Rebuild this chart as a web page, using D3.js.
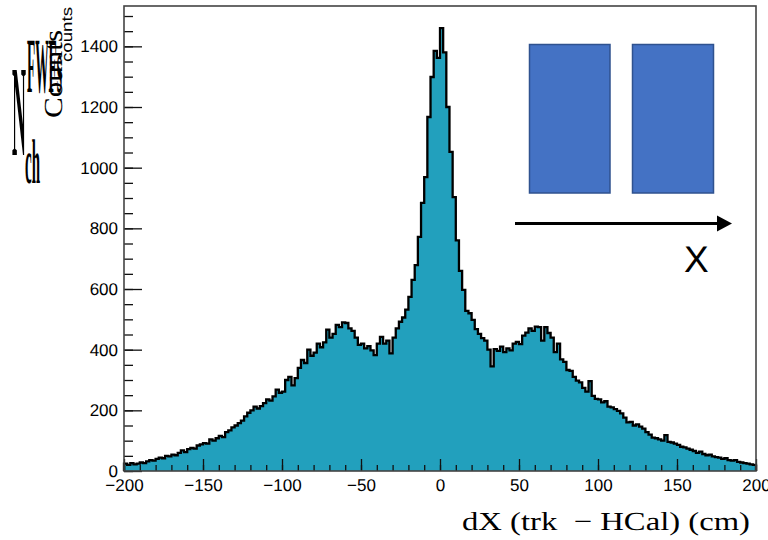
<!DOCTYPE html>
<html>
<head>
<meta charset="utf-8">
<script src="https://cdn.jsdelivr.net/npm/d3@7"></script>
<style>
  html, body { margin: 0; padding: 0; background: #fff; }
  svg { display: block; }
  text { -webkit-font-smoothing: antialiased; text-rendering: geometricPrecision; }
</style>
</head>
<body>
<svg id="chart" width="768" height="540"></svg>
<script>
// dX (track − HCal) residuals, 2 cm bins from −200 to 200 cm
const xRange = [-200, 200];
const binWidth = 2;
const counts = [
  // −200 … −120
  24, 20, 26, 22, 24, 28, 26, 32, 36, 34, 40, 44, 42, 50, 48, 54, 52, 60, 68, 62,
  72, 76, 74, 84, 88, 92, 90, 104, 100, 108, 116, 112, 128, 134, 144, 150, 158, 166, 180, 192,
  // −120 … −60
  200, 212, 206, 214, 224, 236, 232, 246, 268, 258, 262, 300, 310, 282, 306,
  340, 366, 356, 400, 380, 390, 420, 408, 424, 466, 440, 452, 482, 474, 490,
  // −60 … −30
  488, 470, 462, 440, 416, 420, 404, 412, 398, 382, 420, 442, 420, 430, 388,
  // −30 … 0
  440, 470, 492, 506, 532, 574, 630, 679, 772, 884, 969, 1167, 1299, 1385, 1362,
  // 0 … 30
  1460, 1380, 1200, 1052, 903, 760, 660, 597, 528, 520, 498, 468, 452, 438, 430,
  // 30 … 60
  400, 345, 402, 396, 410, 392, 404, 398, 420, 426, 418, 446, 456, 470, 462,
  // 60 … 120
  476, 474, 430, 474, 455, 440, 392, 420, 368, 360, 333, 330, 310, 298, 292,
  274, 262, 296, 248, 238, 236, 226, 230, 212, 210, 204, 198, 190, 176, 160,
  // 120 … 200
  162, 150, 154, 146, 140, 128, 120, 110, 108, 104, 100, 118, 96, 94, 90, 86, 80, 78, 74, 70,
  66, 60, 64, 56, 52, 54, 48, 46, 44, 40, 42, 36, 34, 36, 30, 28, 26, 24, 22, 20
];
const xMajorTicks = [-200, -150, -100, -50, 0, 50, 100, 150, 200];
const xMinorStep = 10;
const yMajorTicks = [0, 200, 400, 600, 800, 1000, 1200, 1400];
const yMinorStep = 50;
const xTitle = "dX (trk  \u2212 HCal) (cm)";

// frame of the plot area
const frame = { left: 124, right: 756, top: 6, bottom: 471 };
const yMax = d3.max(counts) * 1.05;

const svg = d3.select("#chart");
const x = d3.scaleLinear().domain(xRange).range([frame.left, frame.right]);
const y = d3.scaleLinear().domain([0, yMax]).range([frame.bottom, frame.top]);

// histogram as a step outline
const bins = counts.map((c, i) => ({ lo: xRange[0] + i * binWidth, hi: xRange[0] + (i + 1) * binWidth, c }));
const pts = [[x(xRange[0]), y(0)]];
bins.forEach(b => { pts.push([x(b.lo), y(b.c)]); pts.push([x(b.hi), y(b.c)]); });
pts.push([x(xRange[1]), y(0)]);
const line = d3.line();

svg.append("path")
  .attr("d", line(pts) + "Z")
  .attr("fill", "#22a0bd")
  .attr("stroke", "none");
svg.append("path")
  .attr("d", line(pts))
  .attr("fill", "none")
  .attr("stroke", "#000")
  .attr("stroke-width", 2.3)
  .attr("stroke-linejoin", "miter");

// axes with inward ticks
const tickFont = "'Liberation Sans', Arial, Helvetica, sans-serif";
function styleAxis(g) {
  g.select(".domain").remove();
  g.selectAll("line").attr("stroke", "#111").attr("stroke-width", 1.3);
  g.selectAll("text").attr("font-family", tickFont).attr("font-size", 17).attr("fill", "#000");
}
svg.append("g")
  .attr("transform", `translate(0,${frame.bottom})`)
  .call(d3.axisBottom(x).tickValues(d3.range(xRange[0], xRange[1] + 1, xMinorStep)).tickSize(-6).tickFormat(""))
  .call(styleAxis);
svg.append("g")
  .attr("transform", `translate(0,${frame.bottom})`)
  .call(d3.axisBottom(x).tickValues(xMajorTicks).tickSize(-12).tickPadding(8).tickFormat(d3.format("d")))
  .call(styleAxis);
svg.append("g")
  .attr("transform", `translate(${frame.left},0)`)
  .call(d3.axisLeft(y).tickValues(d3.range(0, yMax, yMinorStep)).tickSize(-9).tickFormat(""))
  .call(styleAxis);
svg.append("g")
  .attr("transform", `translate(${frame.left},0)`)
  .call(d3.axisLeft(y).tickValues(yMajorTicks).tickSize(-18).tickPadding(6).tickFormat(d3.format("d")))
  .call(styleAxis);

// frame
svg.append("rect")
  .attr("x", frame.left).attr("y", frame.top)
  .attr("width", frame.right - frame.left).attr("height", frame.bottom - frame.top)
  .attr("fill", "none").attr("stroke", "#444").attr("stroke-width", 1.6);

// x-axis title
svg.append("text")
  .attr("x", 462).attr("y", 530)
  .attr("font-family", "'Liberation Serif', 'DejaVu Serif', serif")
  .attr("font-size", 26)
  .attr("textLength", 288).attr("lengthAdjust", "spacingAndGlyphs")
  .attr("xml:space", "preserve")
  .text(xTitle);

// overlapping y-axis titles
const serif = "'Liberation Serif', 'Times New Roman', serif";
const ytitles = svg.append("g").attr("opacity", 0.999);
function stretched(str, fam, size, len, tx, ty, sy, weight) {
  ytitles.append("text")
    .attr("transform", `translate(${tx},${ty}) scale(1,${sy})`)
    .attr("font-family", fam).attr("font-size", size)
    .attr("font-weight", weight || "normal")
    .attr("fill", "#000")
    .attr("textLength", len).attr("lengthAdjust", "spacingAndGlyphs")
    .text(str);
}
stretched("N", serif, 20, 14, 12, 155, 6.5, "bold");
stretched("ch", serif, 14, 15, 25, 183, 4.5, "bold");
stretched("FWFs", serif, 14, 35, 27, 92, 5.6, "bold");
ytitles.append("text")
  .attr("transform", "translate(62,118) rotate(-90)")
  .attr("font-family", serif).attr("font-size", 26)
  .attr("fill", "#000")
  .attr("textLength", 88).attr("lengthAdjust", "spacingAndGlyphs")
  .text("Counts");
ytitles.append("text")
  .attr("transform", "translate(72,62) rotate(-90)")
  .attr("font-family", tickFont).attr("font-size", 15)
  .attr("fill", "#000")
  .attr("textLength", 55).attr("lengthAdjust", "spacingAndGlyphs")
  .text("counts");

// sketch of two calorimeter blocks and the X direction
const inset = svg.append("g");
inset.append("rect").attr("x", 529.5).attr("y", 44.5).attr("width", 80.5).attr("height", 148.5)
  .attr("fill", "#4472c4").attr("stroke", "#2f528f").attr("stroke-width", 1.5);
inset.append("rect").attr("x", 632.5).attr("y", 44.5).attr("width", 81).attr("height", 148.5)
  .attr("fill", "#4472c4").attr("stroke", "#2f528f").attr("stroke-width", 1.5);
inset.append("line").attr("x1", 515).attr("y1", 223.5).attr("x2", 720).attr("y2", 223.5)
  .attr("stroke", "#000").attr("stroke-width", 3);
inset.append("path").attr("d", "M717,215.5 L732,223.5 L717,231.5 Z").attr("fill", "#000");
inset.append("text").attr("x", 684).attr("y", 272)
  .attr("font-family", "'Liberation Sans', Arial, sans-serif").attr("font-size", 37)
  .text("X");
</script>
</body>
</html>
